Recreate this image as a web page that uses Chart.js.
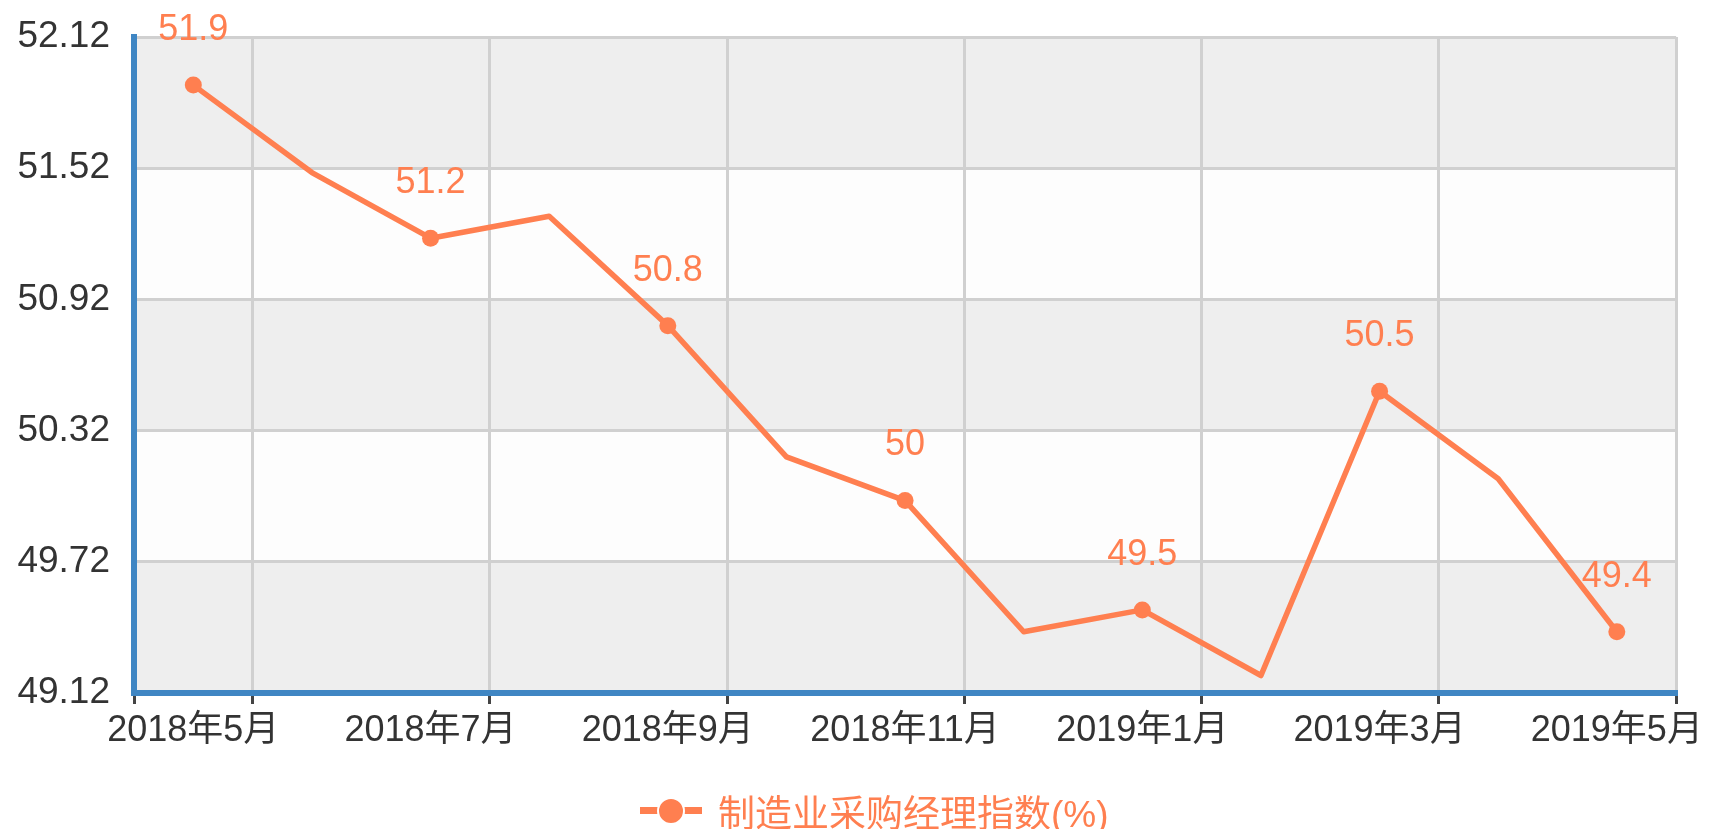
<!DOCTYPE html>
<html>
<head>
<meta charset="utf-8">
<title>制造业采购经理指数</title>
<script src="https://cdn.jsdelivr.net/npm/chart.js@4/dist/chart.umd.min.js"></script>
<style>
  html, body { margin: 0; padding: 0; background: #fff; }
  #wrap { position: relative; width: 1709px; height: 829px; }
  #legend {
    position: absolute; left: 640px; top: 792px; height: 38px;
    display: flex; align-items: center;
    font: 37px "Liberation Sans", "Noto Sans CJK SC", sans-serif;
    color: #ff7f50; white-space: nowrap;
  }
  .icon { position: relative; width: 62px; height: 38px; margin-right: 16px; }
  .icon .bar { position: absolute; left: 0; top: 15px; width: 62px; height: 7px; background: #ff7f50; }
  .icon .dot {
    position: absolute; left: 17px; top: 5px; width: 24px; height: 24px;
    border-radius: 50%; background: #ff7f50; border: 2px solid #fff;
  }
</style>
</head>
<body>
<div id="wrap">
  <canvas id="chart" width="1709" height="829"></canvas>
  <div id="legend"><div class="icon"><div class="bar"></div><div class="dot"></div></div><span id="legendText"></span></div>
</div>
<script>
// data
const months = ['2018年5月', '2018年6月', '2018年7月', '2018年8月', '2018年9月', '2018年10月', '2018年11月',
  '2018年12月', '2019年1月', '2019年2月', '2019年3月', '2019年4月', '2019年5月'];
const pmi = [51.9, 51.5, 51.2, 51.3, 50.8, 50.2, 50.0, 49.4, 49.5, 49.2, 50.5, 50.1, 49.4];
const yTicks = [49.12, 49.72, 50.32, 50.92, 51.52, 52.12];
const seriesName = '制造业采购经理指数(%)';

const lineColor = '#ff7f50';
const axisBlue = '#3f86c3';
const gridGray = '#d0d0d0';

document.getElementById('legendText').textContent = seriesName;

Chart.defaults.font.family = "'Liberation Sans', 'Noto Sans CJK SC', sans-serif";
Chart.defaults.font.size = 36;

// alternating bands behind the grid
const splitArea = {
  id: 'splitArea',
  beforeDraw(chart) {
    const { ctx, chartArea, scales } = chart;
    ctx.save();
    for (let i = 0; i < yTicks.length - 1; i++) {
      const top = scales.y.getPixelForValue(yTicks[i + 1]);
      const bottom = scales.y.getPixelForValue(yTicks[i]);
      ctx.fillStyle = i % 2 === 0 ? '#eeeeee' : '#fdfdfd';
      ctx.fillRect(chartArea.left, top, chartArea.right - chartArea.left, bottom - top);
    }
    ctx.restore();
  }
};

// value labels on every other point
const pointLabels = {
  id: 'pointLabels',
  afterDatasetsDraw(chart) {
    const { ctx } = chart;
    const meta = chart.getDatasetMeta(0);
    ctx.save();
    ctx.font = "36px 'Liberation Sans', 'Noto Sans CJK SC', sans-serif";
    ctx.fillStyle = lineColor;
    ctx.textAlign = 'center';
    ctx.textBaseline = 'middle';
    meta.data.forEach((pt, i) => {
      if (i % 2 === 0) ctx.fillText(String(pmi[i]), pt.x, pt.y - 55);
    });
    ctx.restore();
  }
};

new Chart(document.getElementById('chart'), {
  type: 'line',
  data: {
    labels: months,
    datasets: [{
      label: seriesName,
      data: pmi,
      borderColor: lineColor,
      backgroundColor: lineColor,
      borderWidth: 5.5,
      borderJoinStyle: 'round',
      tension: 0,
      fill: false,
      pointRadius: (c) => (c.dataIndex % 2 === 0 ? 8.5 : 0),
      pointHoverRadius: (c) => (c.dataIndex % 2 === 0 ? 8.5 : 0),
      pointBackgroundColor: lineColor,
      pointBorderWidth: 0
    }]
  },
  options: {
    responsive: false,
    animation: false,
    layout: { padding: { left: 0, right: 29, top: 37, bottom: 0 } },
    plugins: { legend: { display: false }, tooltip: { enabled: false } },
    scales: {
      x: {
        type: 'category',
        offset: true,
        afterFit: (s) => { s.height = 136; },
        border: { color: axisBlue, width: 6 },
        grid: {
          offset: true,
          lineWidth: 3,
          color: (c) => (c.index === undefined || c.index % 2 === 1 ? gridGray : 'transparent'),
          tickLength: 11,
          tickWidth: 3,
          tickColor: (c) => (c.index === undefined || c.index === 0 || c.index % 2 === 1 ? '#444' : 'transparent')
        },
        ticks: {
          autoSkip: false,
          maxRotation: 0,
          color: '#333',
          padding: 5,
          callback: (v, i) => (i % 2 === 0 ? months[i] : '')
        }
      },
      y: {
        min: yTicks[0],
        max: yTicks[yTicks.length - 1],
        afterBuildTicks: (s) => { s.ticks = yTicks.map((v) => ({ value: v })); },
        afterFit: (s) => {
          s.width = 134;
          // label padding is horizontal here, don't let it push the plot down
          s.paddingTop = 0;
          s.paddingBottom = 0;
        },
        border: { color: axisBlue, width: 6 },
        grid: {
          lineWidth: 3,
          drawTicks: false,
          color: (c) => (c.tick && c.tick.value === yTicks[0] ? 'transparent' : gridGray)
        },
        ticks: {
          color: '#333',
          padding: 24,
          font: { size: 37 },
          callback: (v) => Number(v).toFixed(2)
        }
      }
    }
  },
  plugins: [splitArea, pointLabels]
});
</script>
</body>
</html>
